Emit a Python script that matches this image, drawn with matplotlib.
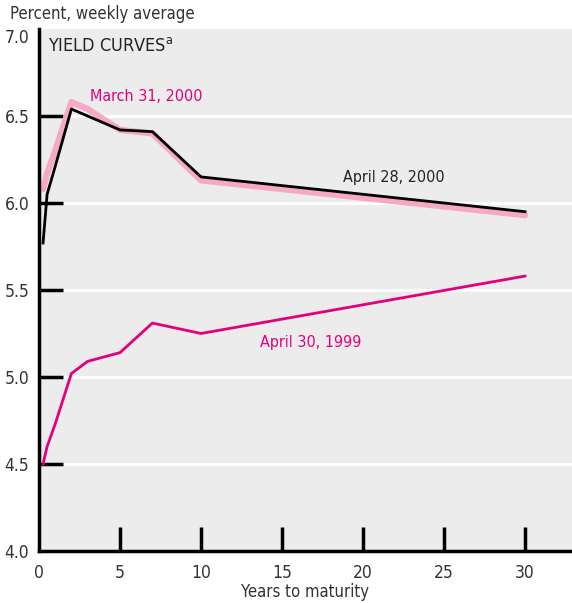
import matplotlib
matplotlib.use('Agg')
from matplotlib import pyplot as plt

# Сроки погашения, лет
maturity = [0.25, 0.5, 1, 2, 3, 5, 7, 10, 30]

# Доходности, %
march_2000 = [6.08, 6.17, 6.30, 6.58, 6.54, 6.42, 6.40, 6.13, 5.93]
april_2000 = [5.77, 6.05, 6.21, 6.54, 6.50, 6.42, 6.41, 6.15, 5.95]
april_1999 = [4.50, 4.60, 4.73, 5.02, 5.09, 5.14, 5.31, 5.25, 5.58]

x_ticks = [0, 5, 10, 15, 20, 25, 30]
y_ticks = [4.0, 4.5, 5.0, 5.5, 6.0, 6.5, 7.0]

MAGENTA = '#E4007C'
PINK = '#F5A9C4'
BG = '#ECECEC'
TXT = '#333333'

plt.rcParams['font.family'] = ['DejaVu Sans']
plt.rcParams['font.stretch'] = 'condensed'

fig = plt.figure(figsize=(5.72, 6.03), dpi=100)
ax = fig.add_axes([39 / 572, 1 - 551 / 603, 1 - 39 / 572, (551 - 29) / 603])
ax.set_facecolor(BG)

ax.set_xlim(0, 32.9)
ax.set_ylim(4.0, 7.0)

for y in y_ticks[1:-1]:
    ax.axhline(y, color='white', lw=2, zorder=1)

ax.plot(maturity, march_2000, color=PINK, lw=4.5, solid_capstyle='round', zorder=2)
ax.plot(maturity, april_2000, color='black', lw=2, zorder=3)
ax.plot(maturity, april_1999, color=MAGENTA, lw=2, zorder=3)

ax.set_xticks(x_ticks)
ax.set_yticks(y_ticks)
ax.set_yticklabels(['%.1f' % v for v in y_ticks])
ax.tick_params(axis='both', direction='in', length=17, width=2.5, color='black',
               labelsize=12.5, labelcolor=TXT)
ax.tick_params(axis='y', pad=7)
ax.tick_params(axis='x', pad=9)

# нет засечек на краях осей
ax.xaxis.get_major_ticks()[0].tick1line.set_visible(False)
ax.yaxis.get_major_ticks()[0].tick1line.set_visible(False)
ax.yaxis.get_major_ticks()[-1].tick1line.set_visible(False)
ax.yaxis.get_major_ticks()[-1].label1.set_va('top')

for side in ['top', 'right']:
    ax.spines[side].set_visible(False)
for side in ['left', 'bottom']:
    ax.spines[side].set_linewidth(2.5)

ax.text(0.016, 0.967, 'YIELD CURVES$^{\\mathregular{a}}$', transform=ax.transAxes,
        fontsize=13, color='#222222', va='center', ha='left')
ax.text(6.6, 6.61, 'March 31, 2000', color=MAGENTA, fontsize=11.5, ha='center', va='center')
ax.text(21.9, 6.147, 'April 28, 2000', color='#222222', fontsize=11.5, ha='center', va='center')
ax.text(16.8, 5.20, 'April 30, 1999', color=MAGENTA, fontsize=11.5, ha='center', va='center')

fig.text(10 / 572, 1 - 14 / 603, 'Percent, weekly average', fontsize=12, color=TXT,
         ha='left', va='center')
ax.set_xlabel('Years to maturity', fontsize=12, color=TXT, labelpad=1)

fig.savefig('out.png', dpi=100)
